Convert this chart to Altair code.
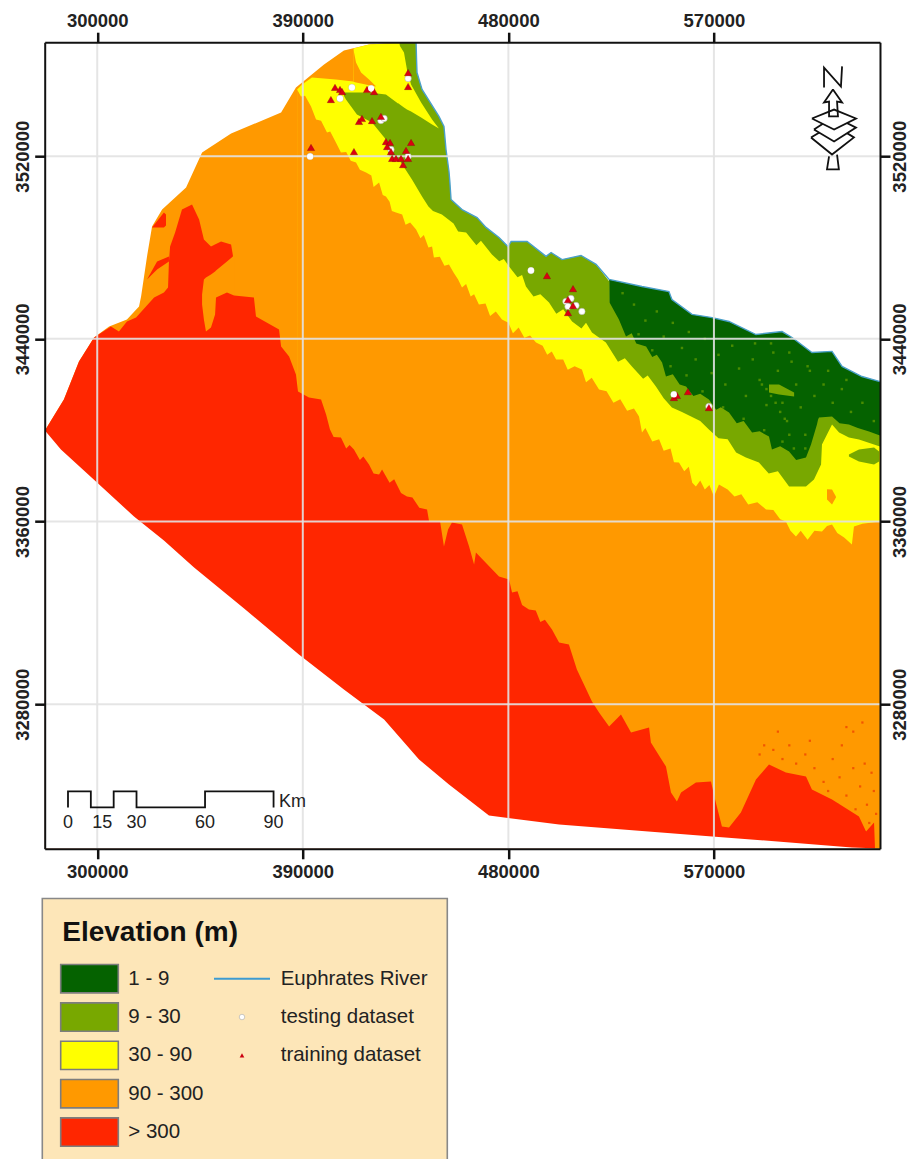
import altair as alt
import pandas as pd

# ---- map extent and grid (km of easting / northing) ----
E_MIN, E_MAX = 277.0, 642.7
N_MIN, N_MAX = 3216.7, 3569.9
GRID_E = [300, 390, 480, 570]
GRID_N = [3280, 3360, 3440, 3520]

COLORS = {"1 - 9": "#056200", "9 - 30": "#78a800", "30 - 90": "#ffff00",
          "90 - 300": "#ff9900", "> 300": "#ff2600"}
CLASSES = list(COLORS)

# ---- edges: each class fills from its edge southwards ----
north_E = [277.1,285.4,292.0,298.6,305.2,313.0,318.3,319.2,321.8,324.0,328.4,338.9,345.9,358.6,380.5,387.0,399.3,408.0,419.0,433.0]
north_N = [3399.9,3413.4,3430.1,3440.6,3445.4,3448.5,3454.2,3458.5,3476.1,3489.2,3496.6,3506.3,3521.6,3529.9,3539.1,3550.1,3560.1,3566.3,3568.9,3569.8]

yellow_up_E = [387.5,389.7,394.0,404.5,412.0,412.2,419.0,433.0]
yellow_up_N = [3549.2,3551.4,3554.4,3553.6,3552.7,3567.1,3568.9,3569.8]

river_E = [439.6,439.8,440.0,442.2,449.6,451.8,452.7,454.0,454.4,454.9,459.7,466.3,470.2,475.9,479.8,481.2,488.2,496.5,498.7,503.5,511.8,518.4,524.1,538.5,550.3,551.6,560.4,569.2,576.6,588.4,599.8,604.2,612.9,621.7,626.1,634.8,642.7]
river_N = [3569.8,3562.3,3556.6,3549.2,3537.4,3533.0,3522.9,3513.3,3508.5,3501.0,3496.6,3493.1,3488.8,3484.4,3480.4,3482.6,3482.6,3476.1,3477.8,3474.7,3476.5,3472.6,3466.0,3462.9,3460.7,3457.2,3450.7,3449.3,3447.6,3441.9,3443.2,3440.6,3434.0,3434.5,3427.9,3423.5,3421.3]

green_cap_E = [408.0,413.7,419.0,426.4,431.7,432.4]
green_cap_N = [3547.9,3547.9,3547.9,3547.0,3543.1,3569.8]

dark_south_E = [524.2,524.3,528.4,531.5,534,536,540.3,543,545,547.3,549.0,552,555,557.8,561,564,567.8,571,573,576.6,580,583,586.7,590,594.1,595.4,599,602.9,606,610.3,612.5,615.1,615.6,616.0,621.7,625,629.1,633,637.9,642.7]
dark_south_N = [3465.1,3455.9,3448.5,3441.0,3442.5,3438,3436.6,3432,3433,3429.6,3423.5,3424.5,3420,3419.1,3415,3416,3413.4,3409,3410,3407.7,3403,3404,3399.0,3399.5,3397.2,3391.5,3393,3390.7,3387,3388.0,3393.7,3402.5,3404.7,3405.6,3406.0,3403,3402.5,3401,3399.4,3397.7]

green_south_E = [407.2,408.9,413.7,420.3,426.4,427.7,432.1,437.8,442.2,445,447,450.9,456,458,461.5,466,468,472.8,476,478,480.3,484,486,487.7,491,494,497.8,501,504,507.9,512,514,516.6,522.7,528,531,534.1,539,541,544.6,548,551.6,556,560,564,567.8,572,576,579.7,584,589.7,594,598,602.9,610.3,613.8,616.9,617.3,619.5,621.7,624.8,629.1,633.5,642.7]
green_south_N = [3547.9,3544.8,3538.2,3534.7,3527.3,3519.9,3518.5,3509.8,3502.3,3498,3496,3494.5,3490.5,3487,3486.6,3481,3483,3476.9,3474,3475,3471.7,3467,3468,3462.9,3458.5,3459.5,3455.9,3451,3453,3447.6,3444.5,3447,3442.8,3438.4,3430,3431.5,3427.9,3422.5,3424,3419.1,3414,3409.9,3408,3406,3404,3400.3,3396.5,3396,3390.2,3388,3385.9,3381,3382,3375.3,3375.3,3378.4,3385.0,3393.7,3398.1,3402.5,3399.0,3396.8,3395.9,3392.9]

yellow_south_E = [387.5,389.2,391,393.6,395.8,398,400.6,402,404.5,406.7,409,411,413.3,415,417.7,420,421,423.4,425,426.4,428,429,430.8,433.5,435,437,439.6,441.5,443,445,446.6,447.4,450,452,454,456,458,459.7,461.5,463.5,465,467.1,470,472,474.5,477.2,480,482,484.5,487,489.5,492.1,495,497,499,500.9,504,506,509,512.2,514,516.5,519.7,523,526,529,532,535,537.2,538.5,540,543,546,548,551,552.5,554.7,557,559,560.5,562.1,564,566,568,570,572.2,576,579,582,585,589,592.8,596,599,601.5,603.5,605.9,608,611,614,617.3,619.5,621.7,624,627,630.4,631.3,635,642.7]
yellow_south_N = [3549.2,3546.1,3546.5,3541.7,3536.1,3535.5,3530.4,3530.8,3526,3521.6,3521.8,3518,3517.2,3514,3512.8,3511.5,3506.5,3508.5,3503,3502.3,3500,3496,3495.3,3494.5,3490,3491,3487.9,3484,3485.5,3480,3480.4,3475.6,3476,3472,3472.6,3469,3466,3462.5,3464,3458.5,3459.5,3455,3455.5,3450,3452,3448.5,3447,3442.5,3445,3440.5,3441.5,3438.4,3437,3433,3434.5,3431,3431,3426.5,3428,3426.6,3421,3423,3417.8,3417,3412,3413.5,3408.5,3409.5,3406,3399,3401,3395,3396,3391,3392,3386,3385.9,3382,3384,3377,3375.3,3378,3374,3376,3371,3376.2,3374,3371,3372,3367.5,3368.5,3365.3,3365,3361,3360,3356,3353.4,3356,3352,3356,3355.6,3358,3358.7,3355,3353,3349.9,3357.8,3359,3360]

red_E = [277.1,285.4,292.0,298.6,306.0,309.5,313.0,317.0,324.9,329.2,331.0,331.4,331.9,334.1,337.1,341.5,344.6,346.7,349.8,354.2,358.6,359.4,359.9,368.6,369.5,379.6,380.5,384.0,387.0,387.9,392.7,398.0,400.2,401.9,403.5,406.7,409,410.5,412.4,415,416.5,419.0,421,423.4,424.7,428,430,433,435.6,438,441,444.4,445.3,450.1,451.8,453.6,455.3,459.7,462.8,465.0,465.8,475.9,480.3,481.6,484,486,489.0,492,494,496,499.1,502.2,506.5,510.0,516.6,519.7,524.1,529.3,533.7,541.6,542.4,549.0,551.2,553.8,555.6,562.1,568.7,570.5,573.5,576.6,581.8,588.4,594.1,601.5,610.3,612.9,621.7,633.5,636.6,640.1,640.5]
red_N = [3399.9,3413.4,3430.1,3440.6,3445.4,3443.2,3447.6,3449.3,3458.1,3460.3,3462.5,3473.9,3480.4,3486.6,3496.6,3498.8,3492.3,3483.5,3480.4,3482.6,3481.3,3476.5,3459.0,3458.1,3449.8,3444.1,3436.6,3432.3,3424.4,3416.9,3414.3,3413.4,3406.9,3400.3,3397,3396.8,3392,3393.5,3391.5,3387,3388.5,3385.0,3381,3380.6,3382.8,3377,3378.5,3372.5,3371.0,3370.5,3366,3365.3,3360.0,3360.0,3349.1,3356.5,3359.6,3358.7,3349.1,3341.2,3346.4,3335.9,3334.6,3328.9,3329.5,3323.5,3321.5,3321,3316,3317,3312.7,3307.0,3306.2,3295.2,3281.2,3276.4,3270.2,3275.5,3267.6,3269.8,3263.2,3252.7,3241.4,3237.4,3241.4,3245.7,3246.2,3238.3,3226.5,3226.0,3232.6,3247.0,3253.6,3250.1,3248.4,3242.7,3238.3,3230.8,3224.3,3228.2,3217.3]

south_E = [277.1,284.1,299.9,316.1,329.2,342.4,364.3,388.3,408.0,425.6,440.9,454.0,471.5,502.2,569.2,630.4,642.7]
south_N = [3399.9,3391.5,3377.1,3362.2,3351.7,3339.9,3321.9,3301.8,3286.5,3273.3,3255.8,3244.8,3231.3,3227.3,3222.1,3217.3,3216.8]

# ---- small closed patches: (class, easting, north edge, south edge) ----
patches = [
    ("90 - 300", [412.1,413.3,415.5,419.0,422.1], [3567.1,3561.0,3556.6,3553.6,3550.5], [3552.6,3552.3,3551.8,3551.0,3550.5]),
    ("30 - 90", [431.6,434.3,435.6,437.4,441.8,446.6,449.6], [3569.8,3565.4,3557.9,3551.4,3543.5,3536.1,3532.1], [3543.3,3541.3,3540.4,3539.6,3536.9,3533.9,3532.1]),
    ("90 - 300", [345.9,346.7,347.6,349.8,351.6,352.0,356.8,359.9], [3459.4,3466.0,3466.9,3468.2,3469.5,3469.9,3473.9,3476.5], [3455.0,3448.5,3443.2,3445.0,3450.7,3458.1,3460.3,3459.0]),
    ("> 300", [324.0,329.2,330.1], [3488.8,3495.3,3494.4], [3488.8,3488.8,3489.6]),
    ("> 300", [321.8,326.2,331.4], [3466.0,3473.9,3476.1], [3466.0,3470.4,3473.9]),
    ("90 - 300", [619.5,621.7,623.4], [3374.1,3374.0,3371.0], [3369.7,3367.5,3370.5]),
    ("9 - 30", [629.1,633.5,640.1,642.3], [3389.4,3391.5,3392.4,3390.7], [3388.5,3386.3,3385.0,3386.3]),
    ("9 - 30", [594.1,598.5,605.1], [3420.0,3420.0,3416.5], [3416.5,3415.6,3414.8]),
]

# ---- speckle in the lowest class and along the > 300 edge ----
speck_dark_E = [535,540,545,548,552,556,559,562,566,569,572,575,578,581,584,587,590,593,596,598,600,602,604,606,608,610,612,614,618,622,626,630,635,640,530,537,543,551,558,565,574,583,592,600,605,610,588,595,603,611,620,628,593,595,597,591,599,601,603]
speck_dark_N = [3455,3448,3452,3441,3447,3436,3443,3431,3440,3425,3433,3420,3437,3427,3415,3431,3422,3411,3434,3426,3412,3404,3430,3420,3410,3398,3426,3415,3420,3412,3418,3408,3412,3404,3460,3442,3435,3428,3424,3417,3410,3405,3400,3395,3392,3392,3438,3438,3434,3428,3426,3422,3418,3415,3412,3420,3408,3405,3398]
speck_red_E = [606,610,614,618,622,625,628,631,634,637,640,641,600,596,603,612,626,636,639,632,638,620,616,624,590,592,598,631,635,628]
speck_red_N = [3254,3258,3252,3246,3256,3248,3240,3252,3244,3236,3242,3232,3256,3260,3262,3264,3262,3254,3250,3234,3228,3242,3240,3236,3258,3262,3268,3268,3272,3270]

# ---- sample points ----
train_E = [404.1,406.3,407.2,402.3,418.1,421.2,436.1,436.1,414.6,415.9,420.3,424.2,393.6,412.4,426.4,428.2,426.9,428.6,437.4,435.2,429.1,430.8,433.0,433.9,436.1,496.9,508.3,506.1,508.3,506.1,552.5,553.8,558.6,567.8]
train_N = [3550.1,3549.2,3548.3,3544.8,3549.2,3548.3,3556.6,3550.5,3535.2,3536.5,3535.6,3537.4,3523.8,3522.0,3526.4,3526.0,3524.2,3522.0,3526.0,3522.5,3519.0,3519.0,3519.0,3516.3,3519.0,3467.7,3462.0,3457.2,3454.6,3451.5,3414.3,3415.2,3416.9,3409.9]
test_E = [411.5,419.9,406.3,436.1,424.2,393.2,425.6,428.6,436.1,489.9,507.4,505.2,509.6,506.1,512.2,552.5,567.8]
test_N = [3550.1,3549.6,3545.2,3554.0,3535.6,3519.9,3536.5,3522.9,3519.9,3469.9,3457.7,3456.4,3454.6,3454.2,3452.0,3415.6,3410.4]

# ---- scale bar ----
BAR_ORIGIN_E = 287.2
BAR_HI, BAR_LO = 3241.8, 3234.8
bar_km = [0,0,10,10,20,20,30,30,60,60,90,90]
bar_level = ["lo","hi","hi","lo","lo","hi","hi","lo","lo","hi","hi","lo"]
bar_labels = [("0",0),("15",15),("30",30),("60",60),("90",90)]
BAR_LABEL_N = 3227.8

# ---- north arrow ----
north_sign = [
    ([618.2,618.2,625.6,626.1],[3550.1,3558.8,3550.5,3559.3],False),
    ([620.4,619.5,624.7,623.9],[3519.9,3514.2,3514.2,3520.7],False),
    ([612.5,622.1,631.3,621.7,612.5],[3528.2,3533.9,3528.2,3520.7,3528.2],True),
    ([613.8,622.6,632.2,622.6,613.8],[3531.7,3537.4,3532.5,3526.4,3531.7],True),
    ([612.9,622.6,632.2,622.6,612.9],[3536.5,3540.4,3536.5,3531.7,3536.5],True),
    ([622.1,618.2,620.4,620.4,624.3,623.9,626.1,622.1],[3549.2,3543.5,3543.9,3537.4,3537.4,3543.9,3543.5,3549.2],False),
]

# ---- legend text ----
LEGEND_TITLE = "Elevation (m)"
other_labels = ["Euphrates River", "testing dataset", "training dataset"]

FONT = "Liberation Sans"
xs = alt.Scale(domain=[E_MIN*1000, E_MAX*1000], nice=False, zero=False)
ys = alt.Scale(domain=[N_MIN*1000, N_MAX*1000], nice=False, zero=False)
X = alt.X("E:Q", scale=xs, axis=None)
Y = alt.Y("N:Q", scale=ys, axis=None)

def fill_south(E, N, cls):
    df = pd.DataFrame({"E": [v*1000 for v in E], "N": [v*1000 for v in N], "S": N_MIN*1000})
    color = "#ffffff" if cls is None else COLORS[cls]
    return alt.Chart(df).mark_area(color=color, interpolate="linear").encode(X, Y, y2="S:Q")

def patch(cls, E, top, bottom):
    df = pd.DataFrame({"E": [v*1000 for v in E], "N": [v*1000 for v in top], "S": [v*1000 for v in bottom]})
    return alt.Chart(df).mark_area(color=COLORS[cls]).encode(X, Y, y2="S:Q")

def path(E, N, color="#111111", width=1.8):
    df = pd.DataFrame({"E": [v*1000 for v in E], "N": [v*1000 for v in N], "i": range(len(E))})
    return alt.Chart(df).mark_line(color=color, strokeWidth=width, clip=False).encode(X, Y, order="i:Q")

def specks(E, N, color, size):
    df = pd.DataFrame({"E": [v*1000 for v in E], "N": [v*1000 for v in N]})
    return alt.Chart(df).mark_point(shape="square", filled=True, color=color, size=size, opacity=1).encode(X, Y)

river_dark = [i for i, e in enumerate(river_E) if e >= 524]
green_top_E = green_cap_E + [e for e in river_E if e < 524.1] + dark_south_E
green_top_N = green_cap_N + [n for e, n in zip(river_E, river_N) if e < 524.1] + dark_south_N

layers = [
    fill_south(north_E, north_N, "90 - 300"),
    fill_south(yellow_up_E, yellow_up_N, "30 - 90"),
    fill_south([river_E[i] for i in river_dark], [river_N[i] for i in river_dark], "1 - 9"),
    specks(speck_dark_E, speck_dark_N, "#4a8c00", 6),
    fill_south(green_top_E, green_top_N, "9 - 30"),
    fill_south(green_south_E, green_south_N, "30 - 90"),
    fill_south(yellow_south_E, yellow_south_N, "90 - 300"),
    specks(speck_red_E, speck_red_N, "#f25500", 5),
    fill_south(red_E, red_N, "> 300"),
]
layers += [patch(*p) for p in patches]
layers.append(fill_south(south_E, south_N, None))
layers.append(path(river_E, river_N, "#4a9fc9", 1.4))

grid_x = pd.DataFrame({"E": [v*1000 for v in GRID_E]})
grid_y = pd.DataFrame({"N": [v*1000 for v in GRID_N]})
layers.append(alt.Chart(grid_x).mark_rule(color="#e2e2e2", size=2, opacity=0.9).encode(X))
layers.append(alt.Chart(grid_y).mark_rule(color="#e2e2e2", size=2, opacity=0.9).encode(Y))

test_df = pd.DataFrame({"E": [v*1000 for v in test_E], "N": [v*1000 for v in test_N]})
train_df = pd.DataFrame({"E": [v*1000 for v in train_E], "N": [v*1000 for v in train_N]})
layers.append(alt.Chart(test_df).mark_point(shape="circle", filled=True, color="#ffffff", stroke="#aaaaaa", strokeWidth=0.5, size=42, opacity=1).encode(X, Y))
layers.append(alt.Chart(train_df).mark_point(shape="triangle-up", filled=True, color="#dc0012", stroke="#8a0010", strokeWidth=0.4, size=52, opacity=1).encode(X, Y))
layers.append(alt.Chart(test_df.iloc[[0,1,2,5,9,15]]).mark_point(shape="circle", filled=True, color="#ffffff", size=36, opacity=1).encode(X, Y))

# scale bar
bar_df = pd.DataFrame({
    "E": [(BAR_ORIGIN_E + k)*1000 for k in bar_km],
    "N": [(BAR_HI if l == "hi" else BAR_LO)*1000 for l in bar_level],
    "i": range(len(bar_km))})
layers.append(alt.Chart(bar_df).mark_line(color="#111111", strokeWidth=1.8).encode(X, Y, order="i:Q"))
lab_df = pd.DataFrame({"E": [(BAR_ORIGIN_E + k)*1000 for _, k in bar_labels],
                       "N": BAR_LABEL_N*1000, "t": [t for t, _ in bar_labels]})
layers.append(alt.Chart(lab_df).mark_text(font=FONT, fontSize=18, color="#222222", align="center", baseline="middle").encode(X, Y, text="t:N"))
km_df = pd.DataFrame({"E": [379600], "N": [3237000], "t": ["Km"]})
layers.append(alt.Chart(km_df).mark_text(font=FONT, fontSize=18, color="#222222", align="left", baseline="middle").encode(X, Y, text="t:N"))

# north sign
for E, N, filled in north_sign:
    if filled:
        cx = E[1]; top = N[1]; bot = N[3]
        layers.append(alt.Chart(pd.DataFrame({
            "E": [E[0]*1000, cx*1000, E[2]*1000], "N": [N[0]*1000, top*1000, N[2]*1000],
            "S": [N[0]*1000, bot*1000, N[2]*1000]})).mark_area(color="#ffffff").encode(X, Y, y2="S:Q"))
    layers.append(path(E, N))

# axes
axis_style = dict(domain=True, domainColor="#111111", domainWidth=2, ticks=True, tickColor="#111111",
                  tickWidth=2.5, tickSize=10, labelFont=FONT, labelFontWeight="bold", labelFontSize=18.5,
                  labelColor="#222222", labelPadding=4, grid=False, title=None, format="d", zindex=1, labelFlush=False,
                  labelOverlap=False)
def ax(orient, vals, **kw):
    st = dict(axis_style); st.update(values=[v*1000 for v in vals], orient=orient); st.update(kw)
    return alt.Axis(**st)

anchor = pd.DataFrame({"E": [E_MIN*1000], "N": [N_MIN*1000]})
def axes_layer(xor, yor, ybase, xpad, ypad):
    return alt.Chart(anchor).mark_point(opacity=0).encode(
        x=alt.X("E:Q", scale=xs, axis=ax(xor, GRID_E, labelPadding=xpad)),
        y=alt.Y("N:Q", scale=ys, axis=ax(yor, GRID_N, labelAngle=270, labelAlign="center", labelBaseline=ybase, labelPadding=ypad)))
layers.append(axes_layer("bottom", "left", "bottom", 4, 2))
layers.append(axes_layer("top", "right", "top", 2, 1))

map_panel = alt.layer(*layers).resolve_axis(x="independent", y="independent").properties(width=835.3, height=806.6)

# ---- legend panel ----
LW, LH = 405, 262
lx = alt.Scale(domain=[37.7, 37.7 + LW], nice=False, zero=False)
ly = alt.Scale(domain=[4.72, -2.112], nice=False, zero=False)
LX = alt.X("x:Q", scale=lx, axis=None)
LY = alt.Y("r:Q", scale=ly, axis=None)

box = alt.Chart(pd.DataFrame({"x": [35.3], "x2": [440.3], "r": [-2.09], "r2": [4.72]})).mark_rect(
    fill="#fde6b8", stroke="#888888", strokeWidth=1.6, clip=False).encode(LX, x2="x2:Q", y=LY, y2="r2:Q")
rows = pd.DataFrame({"c": CLASSES, "r": range(5)})
rows["x"] = 53.7; rows["x2"] = 111.3; rows["r1"] = rows.r - 0.37; rows["r2"] = rows.r + 0.37; rows["tx"] = 121.3
sw = alt.Chart(rows).mark_rect(stroke="#7d7d7d", strokeWidth=1.6).encode(
    LX, x2="x2:Q", y=alt.Y("r1:Q", scale=ly, axis=None), y2="r2:Q",
    color=alt.Color("c:N", scale=alt.Scale(domain=CLASSES, range=[COLORS[c] for c in CLASSES]), legend=None))
sw_t = alt.Chart(rows).mark_text(font=FONT, fontSize=20.5, color="#222222", align="left", baseline="middle").encode(
    x=alt.X("tx:Q", scale=lx, axis=None), y=LY, text="c:N")
title = alt.Chart(pd.DataFrame({"x": [55.3], "r": [-1.19], "t": [LEGEND_TITLE]})).mark_text(
    font=FONT, fontSize=28, fontWeight="bold", color="#111111", align="left", baseline="middle").encode(LX, LY, text="t:N")
other = pd.DataFrame({"x": 273.7, "r": range(3), "t": other_labels})
other_t = alt.Chart(other).mark_text(font=FONT, fontSize=20.5, color="#222222", align="left", baseline="middle").encode(LX, LY, text="t:N")
line_s = alt.Chart(pd.DataFrame({"x": [207, 263], "r": [0, 0]})).mark_line(color="#3d9bd1", strokeWidth=2).encode(LX, LY)
circ_s = alt.Chart(pd.DataFrame({"x": [235], "r": [1]})).mark_point(shape="circle", filled=True, color="#ffffff", stroke="#aaaaaa", strokeWidth=0.6, size=30, opacity=1).encode(LX, LY)
tri_s = alt.Chart(pd.DataFrame({"x": [235], "r": [2]})).mark_point(shape="triangle-up", filled=True, color="#cc0010", size=22, opacity=1).encode(LX, LY)

legend_panel = alt.layer(box, sw, sw_t, title, other_t, line_s, circ_s, tri_s).properties(width=LW, height=LH)

chart = alt.vconcat(map_panel, legend_panel, spacing=15.5).properties(
    padding={"left": 5.7, "top": 3.2, "right": 0, "bottom": 0}, background="#ffffff"
).configure_view(stroke=None)

chart.save("out.html", embed_options={"renderer": "svg", "actions": False})
